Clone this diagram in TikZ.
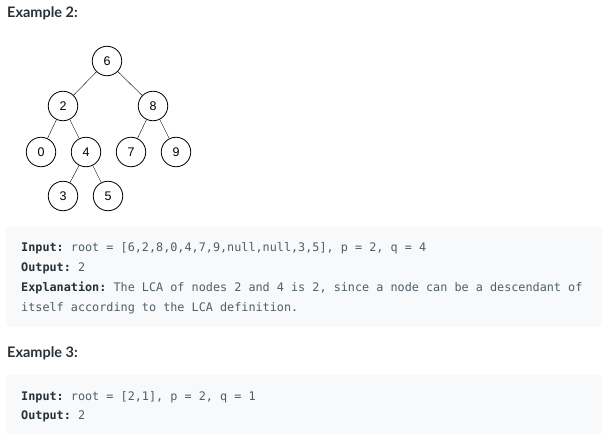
\documentclass[tikz,border=0pt]{standalone}
\usepackage{fontspec}
\setmainfont{Liberation Sans}
\setmonofont{DejaVu Sans Mono}
\newfontfamily\headfont{Lato}
\usepackage{tikz}
\usetikzlibrary{positioning}
\usepackage{xcolor}
\definecolor{mydark}{HTML}{263238}
\definecolor{mygray}{HTML}{4F5F68}
\definecolor{myback}{HTML}{F7F9FA}
\tikzset{
  treenode/.style={draw, circle, thick, minimum size=29.5pt, inner sep=0pt, font=\fontsize{12.5}{14}\selectfont},
  codeline/.style={anchor=base west, inner sep=0pt, text=mygray, font=\ttfamily\fontsize{11.8}{14}\selectfont},
  heading/.style={anchor=base west, inner sep=0pt, text=mydark, font=\headfont\bfseries\fontsize{14.5}{16}\selectfont},
}
\newcommand{\lbl}[1]{\textbf{\color{mydark}#1}}

\begin{document}
\begin{tikzpicture}[x=1pt, y=-1pt]
			\useasboundingbox (0,0) rectangle (602,436);
			\node[heading] (ex2) at (7,18) {Example 2:};
			% the tree
			\node[treenode] (n6) at (107,61) {6};
			\node[treenode] (n2) at (63,106) {2};
			\node[treenode] (n8) at (153,106) {8};
			\node[treenode] (n0) at (41,152) {0};
			\node[treenode] (n4) at (86,152) {4};
			\node[treenode] (n7) at (131,152) {7};
			\node[treenode] (n9) at (176,152) {9};
			\node[treenode] (n3) at (63,196) {3};
			\node[treenode] (n5) at (108,196) {5};
			\draw (n6) -- (n2);
			\draw (n6) -- (n8);
			\draw (n2) -- (n0);
			\draw (n2) -- (n4);
			\draw (n8) -- (n7);
			\draw (n8) -- (n9);
			\draw (n4) -- (n3);
			\draw (n4) -- (n5);
			% first code box
			\fill[myback, rounded corners=3pt] (6,227) rectangle (602,327);
			\node[codeline] (in2) at (21,251) {\lbl{Input:} root = [6,2,8,0,4,7,9,null,null,3,5], p = 2, q = 4};
			\node[codeline] (out2) at (21,271) {\lbl{Output:} 2};
			\node[codeline] (expl) at (21,291) {\lbl{Explanation:} The LCA of nodes 2 and 4 is 2, since a node can be a descendant of};
			\node[codeline] (expl2) at (21,311) {itself according to the LCA definition.};
			% second example
			\node[heading] (ex3) at (7,357) {Example 3:};
			\fill[myback, rounded corners=3pt] (6,375) rectangle (602,434);
			\node[codeline] (in3) at (21,400) {\lbl{Input:} root = [2,1], p = 2, q = 1};
			\node[codeline] (out3) at (21,419) {\lbl{Output:} 2};
		\end{tikzpicture}
\end{document}
